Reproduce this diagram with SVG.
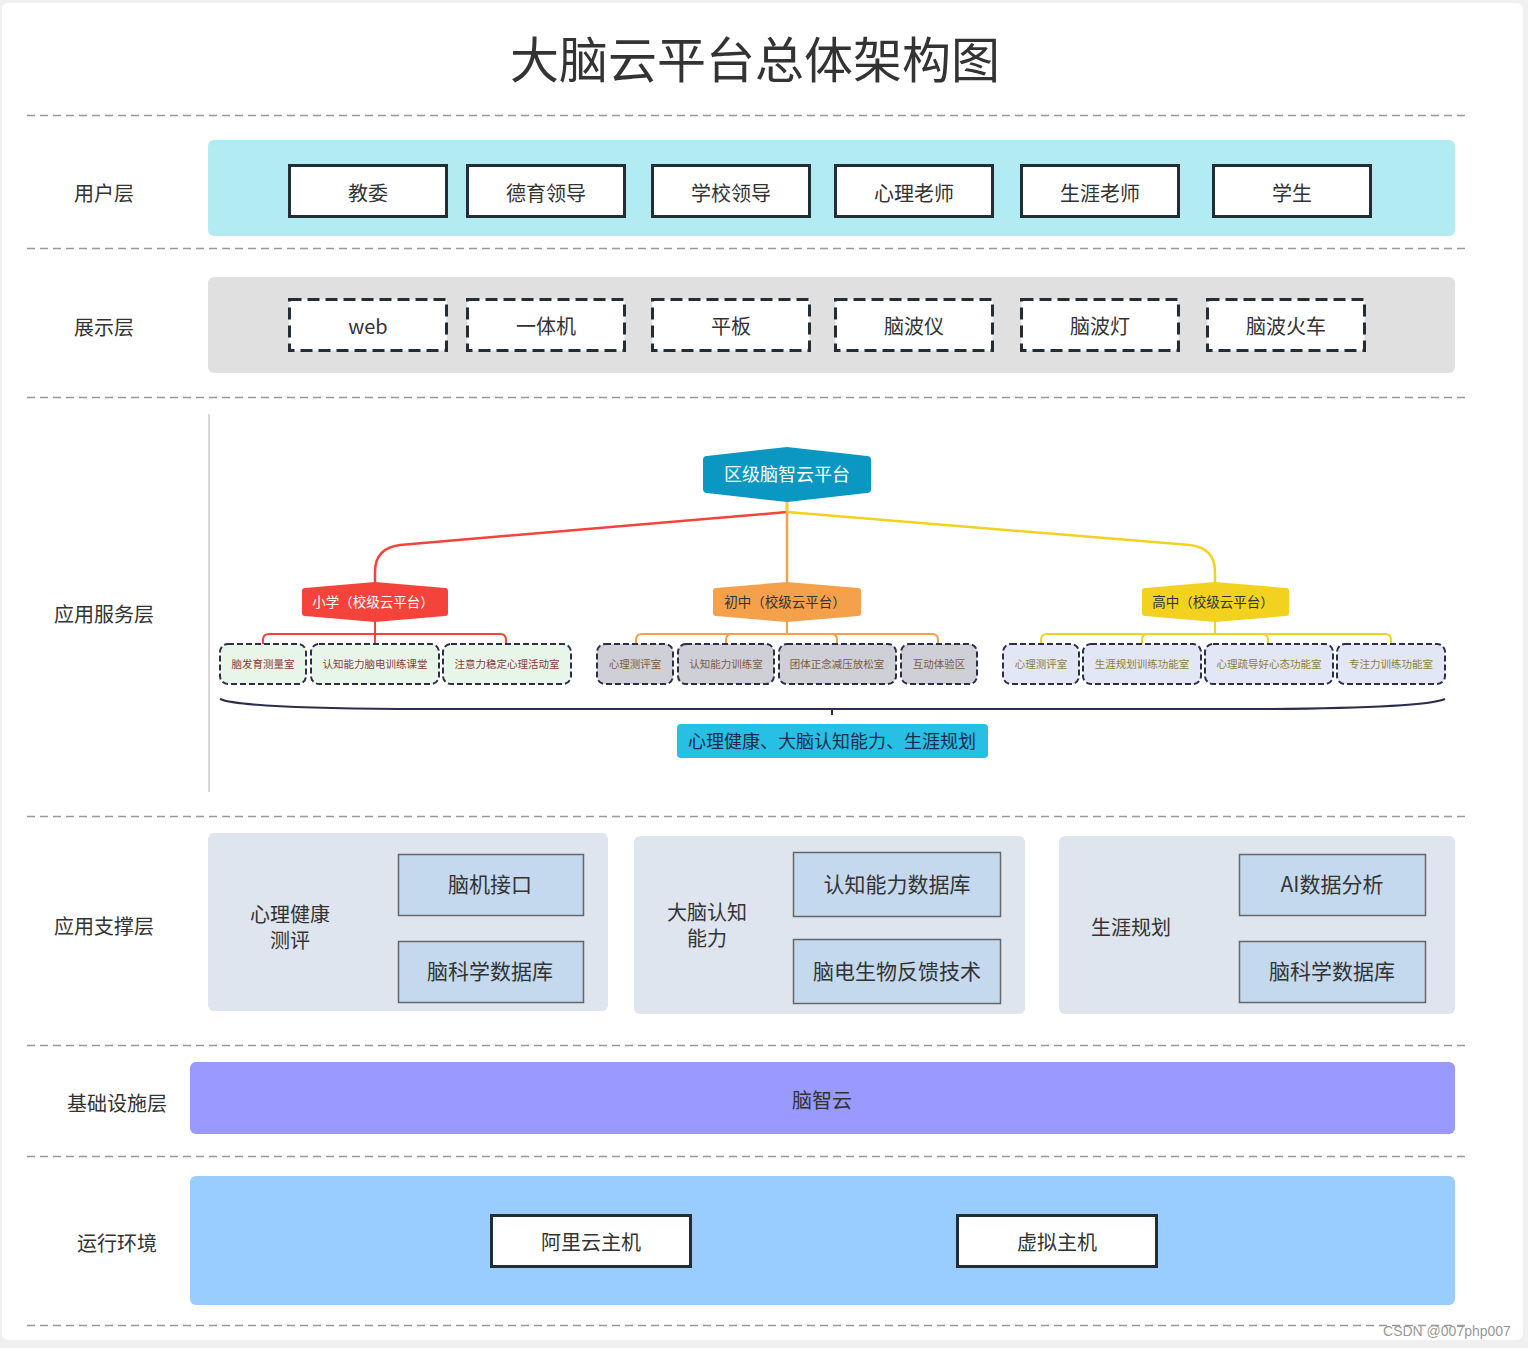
<svg xmlns="http://www.w3.org/2000/svg" width="1528" height="1348" viewBox="0 0 1528 1348">
<style>
text{font-family:"Noto Sans CJK SC","Noto Sans",sans-serif;fill:#333;text-anchor:middle;dominant-baseline:central}
.sep{stroke:#999;stroke-width:1.5;stroke-dasharray:8 5;fill:none}
.lbl{font-size:20px}
.ubox{fill:#fff;stroke:#232d36;stroke-width:3}
.dbox{fill:#fff;stroke:#232d36;stroke-width:3;stroke-dasharray:12 6}
.t20{font-size:20px}
.leaf{stroke:#2b2d4a;stroke-width:2;stroke-dasharray:6 3}
.lt{font-size:10.5px}
.sup{fill:#dfe5ee}
.inner{fill:#c5d9ee;stroke:#666;stroke-width:1.5}
.t21{font-size:21px}
.conn{fill:none;stroke-width:2.5}
</style>
<rect x="0" y="0" width="1528" height="1348" fill="#f0f0f0"/>
<rect x="2" y="3" width="1521" height="1337" rx="6" fill="#fff"/>
<text x="755" y="56" style="font-size:49px">大脑云平台总体架构图</text>
<g id="separators">
<line class="sep" x1="27" y1="115.500" x2="1467" y2="115.500"/>
<line class="sep" x1="27" y1="248.500" x2="1467" y2="248.500"/>
<line class="sep" x1="27" y1="397.500" x2="1467" y2="397.500"/>
<line class="sep" x1="27" y1="816.500" x2="1467" y2="816.500"/>
<line class="sep" x1="27" y1="1045.500" x2="1467" y2="1045.500"/>
<line class="sep" x1="27" y1="1156.500" x2="1467" y2="1156.500"/>
<line class="sep" x1="27" y1="1325.500" x2="1467" y2="1325.500"/>
</g>
<g id="user-layer">
<text class="lbl" x="104" y="192">用户层</text>
<rect x="208" y="140" width="1247" height="96" rx="6" fill="#b3ebf2"/>
<g id="u1"><rect class="ubox" x="289.500" y="165.500" width="157" height="51"/><text class="t20" x="368" y="192">教委</text></g>
<g id="u2"><rect class="ubox" x="467.500" y="165.500" width="157" height="51"/><text class="t20" x="546" y="192">德育领导</text></g>
<g id="u3"><rect class="ubox" x="652.500" y="165.500" width="157" height="51"/><text class="t20" x="731" y="192">学校领导</text></g>
<g id="u4"><rect class="ubox" x="835.500" y="165.500" width="157" height="51"/><text class="t20" x="914" y="192">心理老师</text></g>
<g id="u5"><rect class="ubox" x="1021.500" y="165.500" width="157" height="51"/><text class="t20" x="1100" y="192">生涯老师</text></g>
<g id="u6"><rect class="ubox" x="1213.500" y="165.500" width="157" height="51"/><text class="t20" x="1292" y="192">学生</text></g>
</g>
<g id="display-layer">
<text class="lbl" x="104" y="326">展示层</text>
<rect x="208" y="277" width="1247" height="96" rx="6" fill="#e0e0e0"/>
<g id="d1"><rect class="dbox" x="289.500" y="299.500" width="157" height="51"/><text class="t20" x="368" y="325">web</text></g>
<g id="d2"><rect class="dbox" x="467.500" y="299.500" width="157" height="51"/><text class="t20" x="546" y="325">一体机</text></g>
<g id="d3"><rect class="dbox" x="652.500" y="299.500" width="157" height="51"/><text class="t20" x="731" y="325">平板</text></g>
<g id="d4"><rect class="dbox" x="835.500" y="299.500" width="157" height="51"/><text class="t20" x="914" y="325">脑波仪</text></g>
<g id="d5"><rect class="dbox" x="1021.500" y="299.500" width="157" height="51"/><text class="t20" x="1100" y="325">脑波灯</text></g>
<g id="d6"><rect class="dbox" x="1207.500" y="299.500" width="157" height="51"/><text class="t20" x="1286" y="325">脑波火车</text></g>
</g>
<g id="service-layer-label">
<text class="lbl" x="104" y="613">应用服务层</text>
<line x1="209" y1="414" x2="209" y2="792" stroke="#ccc" stroke-width="1.5"/>
</g>
<g id="connectors">
<path class="conn" stroke="#f4433b" d="M787,512 L400,545 Q375,548 375,572 L375,584"/>
<path class="conn" stroke="#f2d21f" d="M787,512 L1190,545 Q1215,548 1215,572 L1215,584"/>
<path class="conn" stroke="#f5a04a" d="M787,500 L787,584"/>
<path class="conn" stroke="#f2d21f" d="M787,500 L787,513"/>
<g stroke-width="2" fill="none">
<path stroke="#f4433b" d="M263,652 L263,640 Q263,634 269,634 L500,634 Q506,634 506,640 L506,652 M375,620 L375,652"/>
<path stroke="#f5a04a" d="M636,655 L636,640 Q636,634 642,634 L932,634 Q938,634 938,640 L938,655 M726,655 L726,640 Q726,634 732,634 M837,655 L837,640 Q837,634 831,634 M787,620 L787,634"/>
<path stroke="#f2d21f" d="M1041,655 L1041,640 Q1041,634 1047,634 L1385,634 Q1391,634 1391,640 L1391,655 M1142,655 L1142,640 Q1142,634 1148,634 M1268,655 L1268,640 Q1268,634 1262,634 M1215,620 L1215,634"/>
</g>
<path fill="none" stroke="#2b2d4a" stroke-width="2" d="M220,699 Q240,708 400,709 L1265,709 Q1425,708 1445,699 M832,709 L832,715"/>
</g>
<g id="root">
<path fill="#0a97c1" d="M703,460 Q703,456 707,456 L787,447 L867,456 Q871,456 871,460 L871,489 Q871,493 867,493 L787,502 L707,493 Q703,493 703,489 Z"/>
<text x="787" y="473" style="font-size:18px;fill:#fff">区级脑智云平台</text>
</g>
<g id="mid-primary">
<path fill="#f4433b" d="M302,591 Q302,588 305,588 L375,582 L445,588 Q448,588 448,591 L448,613 Q448,616 445,616 L375,622 L305,616 Q302,616 302,613 Z"/>
<text x="373" y="601" style="font-size:13.5px;fill:#fff">小学（校级云平台）</text>
</g>
<g id="mid-junior">
<path fill="#f5a04a" d="M713,591 Q713,588 716,588 L787,582 L858,588 Q861,588 861,591 L861,613 Q861,616 858,616 L787,622 L716,616 Q713,616 713,613 Z"/>
<text x="785" y="601" style="font-size:13.5px">初中（校级云平台）</text>
</g>
<g id="mid-senior">
<path fill="#f2d21f" d="M1142,591 Q1142,588 1145,588 L1215,582 L1286,588 Q1289,588 1289,591 L1289,613 Q1289,616 1286,616 L1215,622 L1145,616 Q1142,616 1142,613 Z"/>
<text x="1213" y="601" style="font-size:13.5px">高中（校级云平台）</text>
</g>
<g id="leaves-primary">
<g id="l1"><rect class="leaf" x="220" y="644" width="86" height="40" rx="8" fill="#e8f5e9"/><text class="lt" x="263" y="663" style="fill:#8b3a3a">脑发育测量室</text></g>
<g id="l2"><rect class="leaf" x="311" y="644" width="128" height="40" rx="8" fill="#e8f5e9"/><text class="lt" x="375" y="663" style="fill:#8b3a3a">认知能力脑电训练课堂</text></g>
<g id="l3"><rect class="leaf" x="443" y="644" width="128" height="40" rx="8" fill="#e8f5e9"/><text class="lt" x="507" y="663" style="fill:#8b3a3a">注意力稳定心理活动室</text></g>
</g>
<g id="leaves-junior">
<g id="l4"><rect class="leaf" x="597" y="644" width="76" height="40" rx="8" fill="#cfcfd8"/><text class="lt" x="635" y="663" style="fill:#7d5c3c">心理测评室</text></g>
<g id="l5"><rect class="leaf" x="678" y="644" width="96" height="40" rx="8" fill="#cfcfd8"/><text class="lt" x="726" y="663" style="fill:#7d5c3c">认知能力训练室</text></g>
<g id="l6"><rect class="leaf" x="779" y="644" width="117" height="40" rx="8" fill="#cfcfd8"/><text class="lt" x="837" y="663" style="fill:#7d5c3c">团体正念减压放松室</text></g>
<g id="l7"><rect class="leaf" x="901" y="644" width="76" height="40" rx="8" fill="#cfcfd8"/><text class="lt" x="939" y="663" style="fill:#7d5c3c">互动体验区</text></g>
</g>
<g id="leaves-senior">
<g id="l8"><rect class="leaf" x="1003" y="644" width="76" height="40" rx="8" fill="#e3e6f4"/><text class="lt" x="1041" y="663" style="fill:#8c7e3a">心理测评室</text></g>
<g id="l9"><rect class="leaf" x="1083" y="644" width="118" height="40" rx="8" fill="#e3e6f4"/><text class="lt" x="1142" y="663" style="fill:#8c7e3a">生涯规划训练功能室</text></g>
<g id="l10"><rect class="leaf" x="1205" y="644" width="128" height="40" rx="8" fill="#e3e6f4"/><text class="lt" x="1269" y="663" style="fill:#8c7e3a">心理疏导好心态功能室</text></g>
<g id="l11"><rect class="leaf" x="1337" y="644" width="108" height="40" rx="8" fill="#e3e6f4"/><text class="lt" x="1391" y="663" style="fill:#8c7e3a">专注力训练功能室</text></g>
</g>
<g id="summary">
<rect x="677" y="724" width="311" height="34" rx="4" fill="#27bfe3"/>
<text x="832" y="740" style="font-size:18px;fill:#1a2a4a">心理健康、大脑认知能力、生涯规划</text>
</g>
<g id="support-layer">
<text class="lbl" x="104" y="925">应用支撑层</text>
<g id="s1">
<rect class="sup" x="208" y="833" width="400" height="178" rx="6"/>
<text class="t20" x="290" y="913">心理健康</text><text class="t20" x="290" y="939">测评</text>
<rect class="inner" x="398.500" y="854.500" width="185" height="61"/><text class="t21" x="490" y="883">脑机接口</text>
<rect class="inner" x="398.500" y="941.500" width="185" height="61"/><text class="t21" x="490" y="970">脑科学数据库</text>
</g>
<g id="s2">
<rect class="sup" x="634" y="836" width="391" height="178" rx="6"/>
<text class="t20" x="707" y="911">大脑认知</text><text class="t20" x="707" y="937">能力</text>
<rect class="inner" x="793.500" y="852.500" width="207" height="64"/><text class="t21" x="897" y="883">认知能力数据库</text>
<rect class="inner" x="793.500" y="939.500" width="207" height="64"/><text class="t21" x="897" y="970">脑电生物反馈技术</text>
</g>
<g id="s3">
<rect class="sup" x="1059" y="836" width="396" height="178" rx="6"/>
<text class="t20" x="1131" y="926">生涯规划</text>
<rect class="inner" x="1239.500" y="854.500" width="186" height="61"/><text class="t21" x="1332" y="883">AI数据分析</text>
<rect class="inner" x="1239.500" y="941.500" width="186" height="61"/><text class="t21" x="1332" y="970">脑科学数据库</text>
</g>
</g>
<g id="infra-layer">
<text class="lbl" x="117" y="1102">基础设施层</text>
<rect x="190" y="1062" width="1265" height="72" rx="6" fill="#9999ff"/>
<text class="t20" x="822" y="1099">脑智云</text>
</g>
<g id="runtime-layer">
<text class="lbl" x="117" y="1242">运行环境</text>
<rect x="190" y="1176" width="1265" height="129" rx="6" fill="#99ccff"/>
<g id="r1"><rect class="ubox" x="491.500" y="1215.500" width="199" height="51"/><text class="t20" x="591" y="1241">阿里云主机</text></g>
<g id="r2"><rect class="ubox" x="957.500" y="1215.500" width="199" height="51"/><text class="t20" x="1057" y="1241">虚拟主机</text></g>
</g>
<text x="1447" y="1331" style="font-size:14px;fill:#999;font-family:'Liberation Sans',sans-serif">CSDN @007php007</text>
</svg>
